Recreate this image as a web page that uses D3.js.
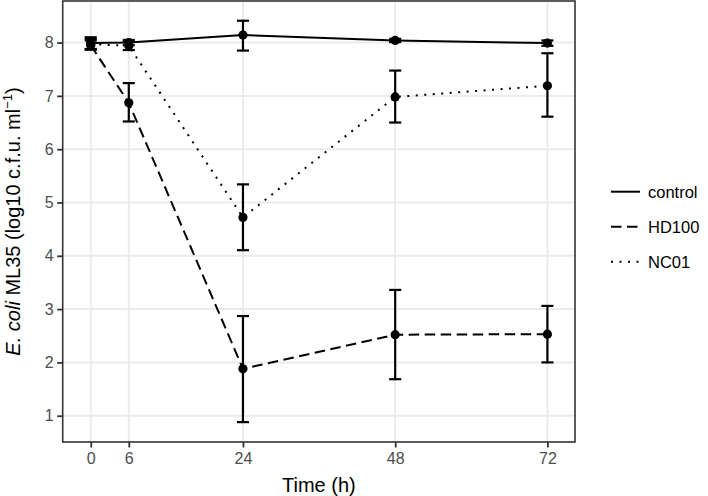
<!DOCTYPE html>
<html><head><meta charset="utf-8">
<script src="https://cdn.jsdelivr.net/npm/d3@7"></script>
<style>body{margin:0;background:#fff}svg{display:block}</style>
</head><body><svg id="c" width="708" height="496"></svg>
<script>
const times = [0, 6, 24, 48, 72];
const seriesNames = ["control", "HD100", "NC01"];
const controlMean = [7.99, 8.00, 8.14, 8.04, 7.99];
const controlLow  = [7.88, 7.95, 7.85, 8.01, 7.94];
const controlHigh = [8.10, 8.05, 8.41, 8.07, 8.04];
const hd100Mean = [7.95, 6.87, 1.88, 2.52, 2.53];
const hd100Low  = [7.87, 6.52, 0.88, 1.685, 2.00];
const hd100High = [8.04, 7.24, 2.87, 3.36, 3.06];
const nc01Mean = [7.97, 7.94, 4.72, 6.98, 7.19];
const nc01Low  = [7.87, 7.86, 4.105, 6.50, 6.61];
const nc01High = [8.07, 8.02, 5.34, 7.475, 7.80];
const xTicks = [0, 6, 24, 48, 72];
const yTicks = [1, 2, 3, 4, 5, 6, 7, 8];

const series = [
  {name: "control", mean: controlMean, lo: controlLow, hi: controlHigh, dash: null},
  {name: "HD100", mean: hd100Mean, lo: hd100Low, hi: hd100High, dash: "10.5,5.5"},
  {name: "NC01", mean: nc01Mean, lo: nc01Low, hi: nc01High, dash: "2,6.5"}
];

const svg = d3.select("#c");
const L = 62.7, R = 575, T = 1, B = 442;
const x = d3.scaleLinear().domain([-4.42, 76.35]).range([L, R]);
const y = d3.scaleLinear().domain([8.78, 0.507]).range([T, B]);

const font = "Liberation Sans, Arial, Helvetica, sans-serif";
// grid
const g = svg.append("g");
g.selectAll(".gy").data(yTicks).join("line")
  .attr("x1", L).attr("x2", R).attr("y1", d => y(d)).attr("y2", d => y(d))
  .attr("stroke", "#EBEBEB").attr("stroke-width", 2);
g.selectAll(".gx").data(xTicks).join("line")
  .attr("y1", T).attr("y2", B).attr("x1", d => x(d)).attr("x2", d => x(d))
  .attr("stroke", "#EBEBEB").attr("stroke-width", 2);

// axes
const xAxis = d3.axisBottom(x).tickValues(xTicks).tickSize(5.5).tickPadding(5.5);
const yAxis = d3.axisLeft(y).tickValues(yTicks).tickSize(5.5).tickPadding(3.5);
const gx = svg.append("g").attr("transform", `translate(0,${B})`).call(xAxis);
const gy = svg.append("g").attr("transform", `translate(${L},0)`).call(yAxis);
[gx, gy].forEach(a => {
  a.select(".domain").remove();
  a.selectAll(".tick line").attr("stroke", "#333333").attr("stroke-width", 1.8);
  a.selectAll(".tick text").attr("fill", "#4D4D4D").style("font-family", font).style("font-size", "16px");
});

// lines
const line = d3.line().x((d, i) => x(times[i])).y(d => y(d));
const plot = svg.append("g");
series.forEach(s => {
  plot.append("path").datum(s.mean).attr("d", line)
    .attr("fill", "none").attr("stroke", "#000").attr("stroke-width", 2)
    .attr("stroke-dasharray", s.dash).attr("stroke-linecap", "butt");
});
// error bars
const hw = 0.95;
series.forEach(s => {
  const eb = plot.append("g").attr("stroke", "#000").attr("stroke-width", 2.2).attr("fill", "none");
  times.forEach((t, i) => {
    eb.append("line").attr("x1", x(t)).attr("x2", x(t)).attr("y1", y(s.lo[i])).attr("y2", y(s.hi[i]));
    eb.append("line").attr("x1", x(t - hw)).attr("x2", x(t + hw)).attr("y1", y(s.lo[i])).attr("y2", y(s.lo[i]));
    eb.append("line").attr("x1", x(t - hw)).attr("x2", x(t + hw)).attr("y1", y(s.hi[i])).attr("y2", y(s.hi[i]));
  });
});
// points
series.forEach(s => {
  plot.selectAll(null).data(s.mean).join("circle")
    .attr("cx", (d, i) => x(times[i])).attr("cy", d => y(d)).attr("r", 4.6).attr("fill", "#000");
});

// panel border
svg.append("rect").attr("x", L).attr("y", T).attr("width", R - L).attr("height", B - T)
  .attr("fill", "none").attr("stroke", "#333333").attr("stroke-width", 1.6);

// axis titles
svg.append("text").attr("x", (L + R) / 2).attr("y", 492).attr("text-anchor", "middle")
  .style("font-family", font).style("font-size", "20px").attr("fill", "#000").text("Time (h)");
const yt = svg.append("text").attr("transform", `translate(20,${(T + B) / 2}) rotate(-90)`)
  .attr("text-anchor", "middle").style("font-family", font).style("font-size", "20px").attr("fill", "#000");
yt.append("tspan").style("font-style", "italic").text("E. coli");
yt.append("tspan").text(" ML35 (log10 c.f.u. ml");
yt.append("tspan").attr("dy", -8).style("font-size", "13px").text("\u22121");
yt.append("tspan").attr("dy", 8).text(")");

// legend
const leg = svg.append("g");
const legY = [191.7, 226.7, 261.7];
series.forEach((s, i) => {
  leg.append("line").attr("x1", 611).attr("x2", 640).attr("y1", legY[i]).attr("y2", legY[i])
    .attr("stroke", "#000").attr("stroke-width", 2).attr("stroke-dasharray", s.dash);
  leg.append("text").attr("x", 648).attr("y", legY[i]).attr("dy", "0.36em")
    .style("font-family", font).style("font-size", "16.5px").attr("fill", "#000").text(seriesNames[i]);
});
</script></body></html>
